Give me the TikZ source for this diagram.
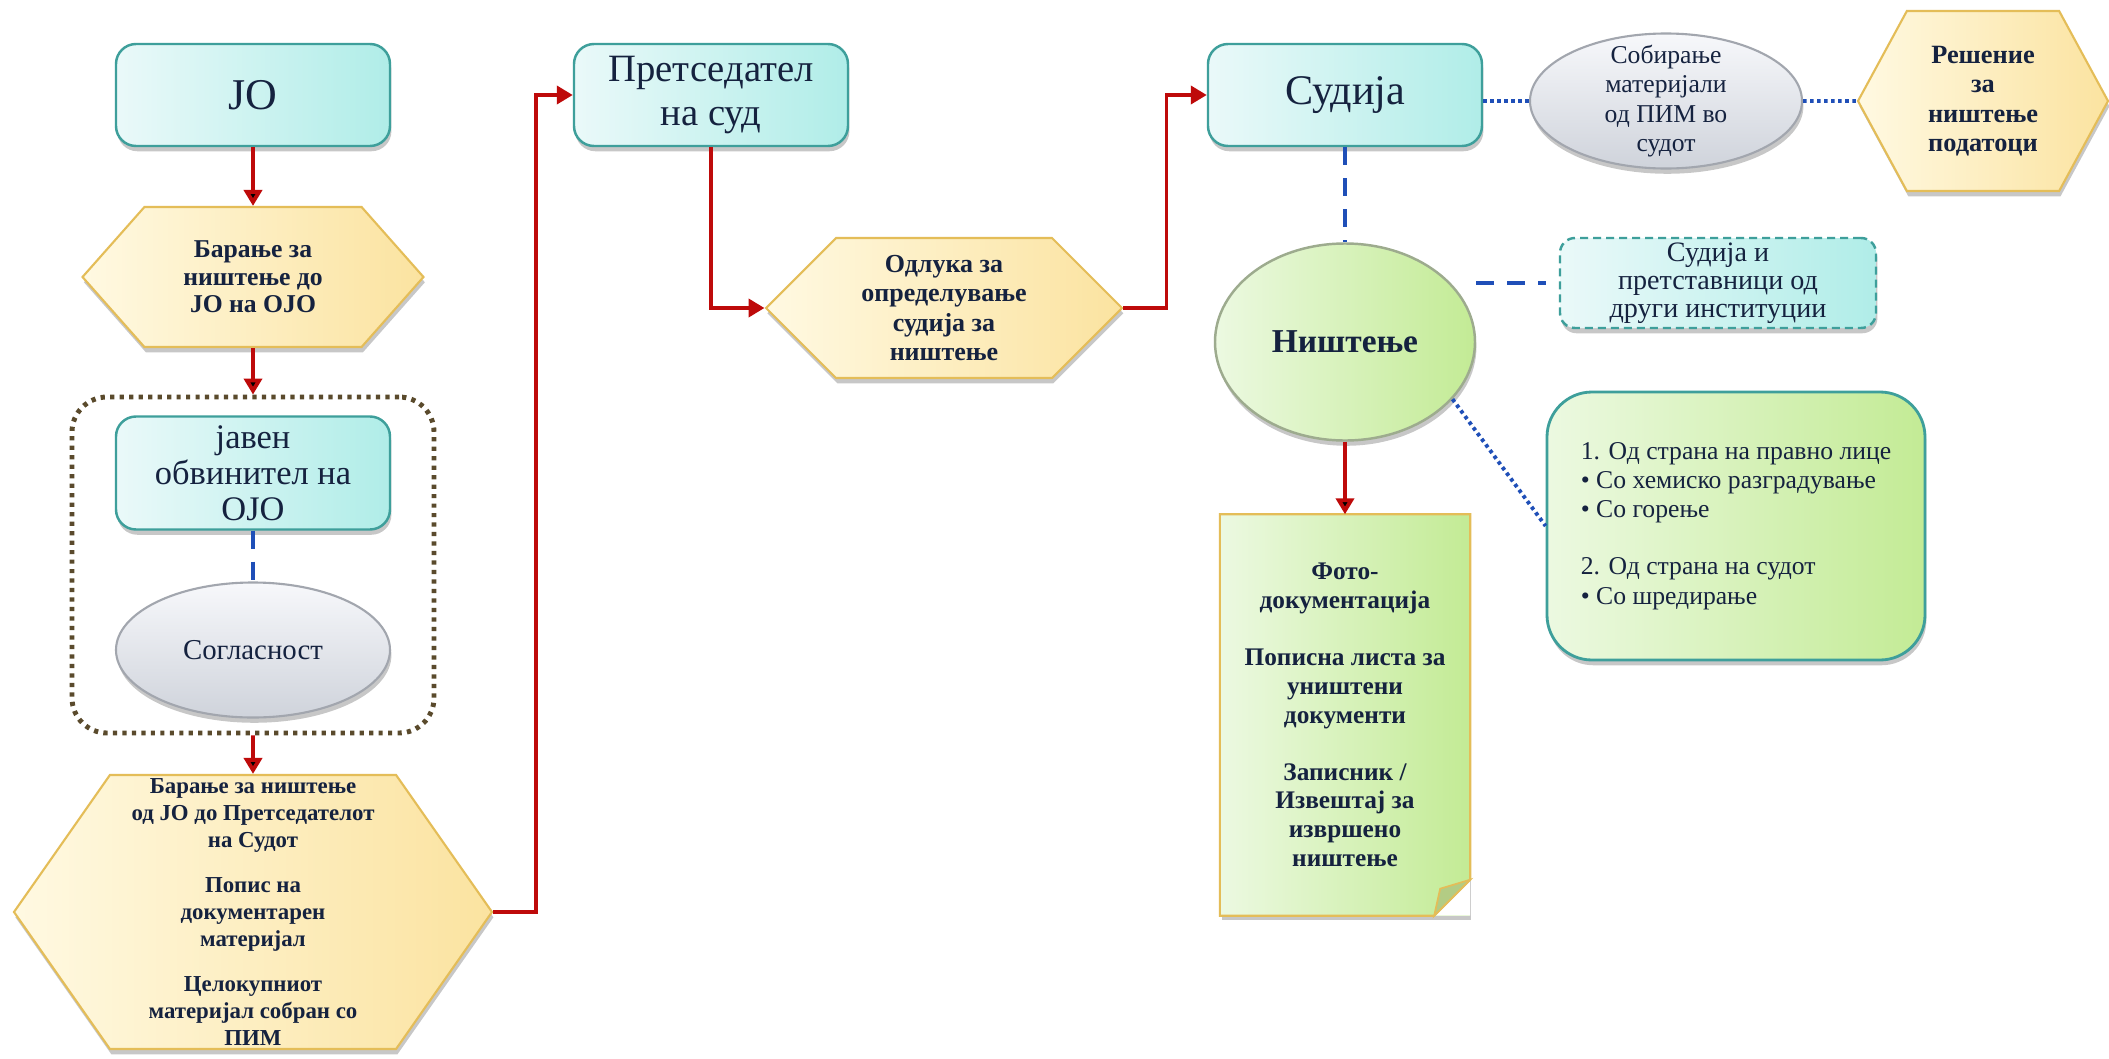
\documentclass[tikz,border=0pt]{standalone}
\usepackage{fontspec}
\setmainfont{Liberation Serif}
\usetikzlibrary{arrows.meta, positioning, shapes.geometric, shapes.symbols, shadows, calc}

\definecolor{tekst}{HTML}{15223F}
\definecolor{tirkiz}{HTML}{3E9F9B}
\definecolor{tirkizL}{HTML}{EAF9F9}
\definecolor{tirkizD}{HTML}{B0EDE8}
\definecolor{zolta}{HTML}{E4BD58}
\definecolor{zoltaL}{HTML}{FFF9E2}
\definecolor{zoltaD}{HTML}{FBE3A0}
\definecolor{siva}{HTML}{A2A6AE}
\definecolor{sivaL}{HTML}{F7F8FB}
\definecolor{sivaD}{HTML}{CFD3DB}
\definecolor{zelenaR}{HTML}{9DAB8E}
\definecolor{zelenaL}{HTML}{ECF9E1}
\definecolor{zelenaD}{HTML}{C3EB95}
\definecolor{prevoj}{HTML}{B3CC84}
\definecolor{crvena}{HTML}{BE0A0A}
\definecolor{plava}{HTML}{1F4FB8}
\definecolor{kafena}{HTML}{5A4A2C}

\begin{document}
\begin{tikzpicture} [node distance = 2cm, on grid,
        senka/.style = {drop shadow = {shadow xshift = 0.4pt, shadow yshift = -1.5pt, fill = black, opacity = 0.22}},
        licnost/.style = {rectangle, rounded corners = 0.2cm, draw = tirkiz, line width = 0.7pt, left color = tirkizL, right color = tirkizD, text = tekst, align = center, inner sep = 1pt, minimum width = 2.74cm, minimum height = 1.02cm, senka},
        baranje/.style = {signal, signal to = east and west, draw = zolta, line width = 0.6pt, left color = zoltaL, right color = zoltaD, text = tekst, align = center, inner sep = 0pt, senka},
        sivo/.style = {ellipse, draw = siva, line width = 0.6pt, top color = sivaL, bottom color = sivaD, text = tekst, senka},
        zeleno/.style = {ellipse, draw = zelenaR, line width = 0.7pt, left color = zelenaL, right color = zelenaD, text = tekst, senka},
        nacin/.style = {rectangle, rounded corners = 0.45cm, draw = tirkiz, line width = 0.8pt, left color = zelenaL, right color = zelenaD, text = tekst, align = left, senka},
        belezka/.style = {rectangle, left color = zelenaL, right color = zelenaD, text = tekst, align = center, senka},
        grupa/.style = {rectangle, rounded corners = 0.35cm, draw = kafena, line width = 1.4pt, dash pattern = on 1.2pt off 1.5pt},
        tek/.style = {-{Triangle[width = 0.18cm, length = 0.16cm]}, draw = crvena, line width = 1.1pt},
        isprekinata/.style = {draw = plava, line width = 1.1pt, dash pattern = on 0.18cm off 0.13cm},
        tockesta/.style = {draw = plava, line width = 1.1pt, dash pattern = on 1pt off 1pt}]

        \path [use as bounding box, fill = white] (0,0) rectangle (21.09,-10.59);

        \node (jo) [licnost, font = \fontsize{12.5}{14}\selectfont] at (2.53,-0.95) {ЈО};
        \node (bar1) [baranje, below = 1.82cm of jo, minimum width = 3.41cm, minimum height = 1.40cm, signal pointer angle = 97, font = \fontsize{7.3}{7.8}\selectfont\bfseries] {Барање за\\ништење до\\ЈО на ОЈО};
        \node (okvir) [grupa, below = 4.70cm of jo, minimum width = 3.62cm, minimum height = 3.36cm] {};
        \node (javen) [licnost, below = 1.96cm of bar1, minimum height = 1.13cm, font = \fontsize{9.8}{10.3}\selectfont] {јавен\\обвинител на\\ОЈО};
        \node (soglasnost) [sivo, below = 1.77cm of javen, minimum width = 2.74cm, minimum height = 1.35cm, font = \fontsize{8.2}{10}\selectfont] {Согласност};
        \node (bar2) [baranje, below = 2.62cm of soglasnost, minimum width = 4.78cm, minimum height = 2.74cm, signal pointer angle = 110, font = \fontsize{6.5}{7.7}\selectfont\bfseries] {Барање за ништење\\од ЈО до Претседателот\\на Судот\\[5pt]Попис на\\документарен\\материјал\\[5pt]Целокупниот\\материјал собран со\\ПИМ};

        \node (pretsedatel) [licnost, right = 4.58cm of jo, font = \fontsize{11}{12.5}\selectfont] {Претседател\\на суд};
        \node (odluka) [baranje, below right = 2.13cm and 2.33cm of pretsedatel, minimum width = 3.56cm, minimum height = 1.40cm, signal pointer angle = 90, font = \fontsize{7.4}{8.3}\selectfont\bfseries] {Одлука за\\определување\\судија за\\ништење};
        \node (sudija) [licnost, right = 6.34cm of pretsedatel, font = \fontsize{12}{14}\selectfont] {Судија};
        \node (sobiranje) [sivo, right = 3.21cm of sudija, yshift = -0.06cm, minimum width = 2.72cm, minimum height = 1.35cm,
            label = {[align = center, text = tekst, font = \fontsize{7.3}{8.4}\selectfont]center:{Собирање\\материјали\\од ПИМ во\\судот}}] {};
        \node (reshenie) [baranje, right = 3.17cm of sobiranje, minimum width = 2.50cm, minimum height = 1.80cm, signal pointer angle = 123, font = \fontsize{7.5}{8.4}\selectfont\bfseries] {Решение\\за\\ништење\\податоци};

        \node (nishtenje) [zeleno, below = 2.47cm of sudija, minimum width = 2.60cm, minimum height = 1.97cm, font = \fontsize{9.5}{11}\selectfont\bfseries] {Ништење};
        \node (sudijai) [licnost, above right = 0.59cm and 3.73cm of nishtenje, minimum width = 3.16cm, minimum height = 0.90cm, rounded corners = 0.15cm, dash pattern = on 0.08cm off 0.05cm, font = \fontsize{8}{8}\selectfont] {Судија и\\претставници од\\други институции};
        \node (nacini) [nacin, below right = 1.84cm and 3.91cm of nishtenje, minimum width = 3.78cm, minimum height = 2.68cm, font = \fontsize{7.3}{8.3}\selectfont] {1. Од страна на правно лице\\• Со хемиско разградување\\• Со горење\\[8pt]2. Од страна на судот\\• Со шредирање};
        \node (zapisnik) [belezka, below = 3.73cm of nishtenje, minimum width = 2.49cm, minimum height = 4.00cm, font = \fontsize{7.2}{8.2}\selectfont\bfseries] {Фото-\\документација\\[8pt]Пописна листа за\\уништени\\документи\\[8pt]Записник /\\Извештај за\\извршено\\ништење};

        \fill [white] (zapisnik.south east) -- ++(-0.36,0) -- ++(0.36,0.36) -- cycle;
        \draw [draw = zolta, line width = 0.6pt] (zapisnik.north west) -- (zapisnik.north east) -- ($(zapisnik.south east)+(0,0.36)$) -- ($(zapisnik.south east)+(-0.36,0)$) -- (zapisnik.south west) -- cycle;
        \filldraw [draw = zolta, fill = prevoj, line width = 0.5pt] ($(zapisnik.south east)+(0,0.36)$) -- ($(zapisnik.south east)+(-0.36,0)$) -- ($(zapisnik.south east)+(-0.30,0.27)$) -- cycle;

        \path [tek] (jo) edge (bar1);
        \path [tek] (bar1) edge (okvir);
        \path [isprekinata] (javen) edge (soglasnost);
        \path [tek] (okvir) edge (bar2);
        \draw [tek] (bar2.east) -- ++(0.43,0) |- (pretsedatel.west);
        \draw [tek] (pretsedatel.south) |- (odluka.west);
        \draw [tek] (odluka.east) -- ++(0.43,0) |- (sudija.west);
        \draw [tockesta] (sudija.east |- sobiranje.west) -- (sobiranje.west);
        \path [tockesta] (sobiranje) edge (reshenie);
        \path [isprekinata] (sudija) edge (nishtenje);
        \draw [isprekinata, shorten > = 0.13cm] (nishtenje.east |- sudijai.west) -- (sudijai.west);
        \draw [tockesta] (nishtenje.-28) -- (nacini.west);
        \path [tek] (nishtenje) edge (zapisnik);

    \end{tikzpicture}
\end{document}
